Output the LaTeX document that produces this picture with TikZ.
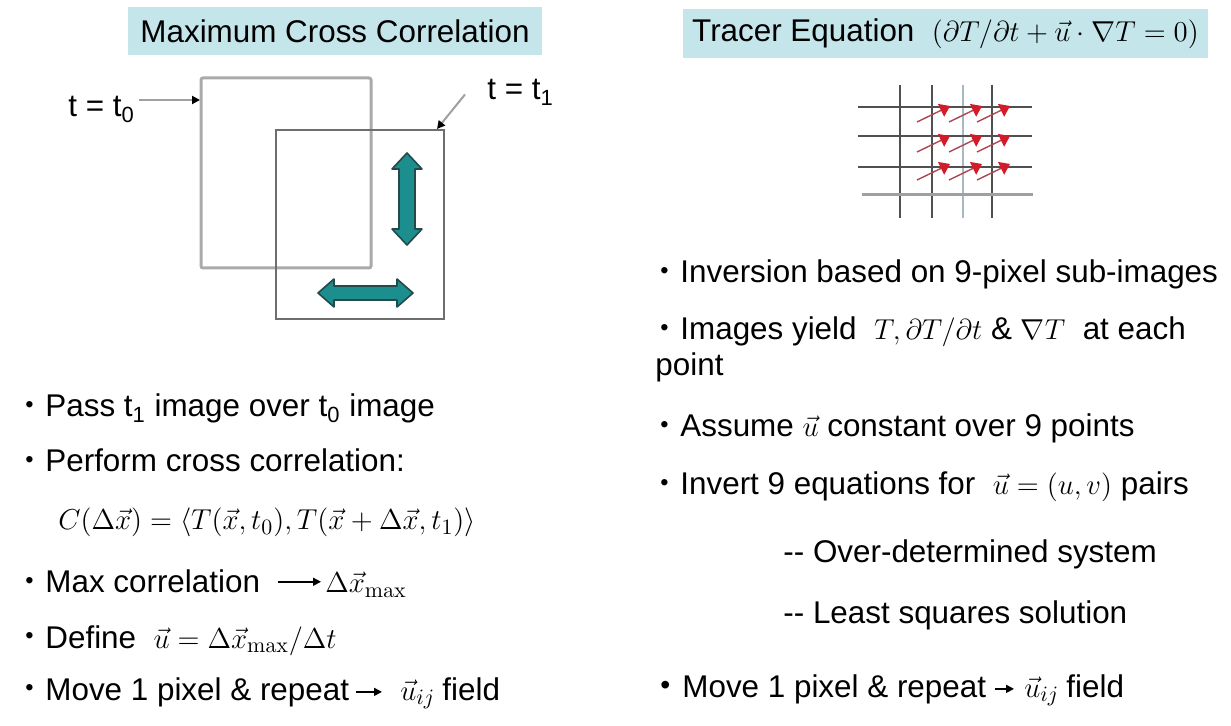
\documentclass[tikz,border=0pt]{standalone}
\usepackage[no-math]{fontspec}
\setmainfont{Liberation Sans}
\usetikzlibrary{arrows.meta}

\newcommand{\bul}{\makebox[10pt][l]{\raisebox{0.14em}{\scalebox{0.75}{\textbullet}}}}
\newcommand{\bulbig}{\makebox[11pt][l]{\raisebox{0.08em}{\scalebox{0.9}{\textbullet}}}}

\begin{document}
\begin{tikzpicture}[x=0.5pt, y=-0.5pt,
    txt/.style={anchor=base west, inner sep=0pt, font=\fontsize{15.7}{18}\selectfont},
    titlebox/.style={fill=titleColour, inner sep=0pt, font=\fontsize{15.7}{18}\selectfont},
    labelarrow/.style={draw=lineGrey, line width=1pt, -{Triangle[length=4pt, width=4pt, color=black]}},
    textarrow/.style={draw=black, line width=0.8pt, -{Triangle[length=4pt, width=4pt]}},
    gridline/.style={draw=gridColour, line width=1pt},
    flowarrow/.style={draw=flowLine, line width=0.7pt, -{Triangle[length=5pt, width=7pt, color=flowHead]}},
    dblarrow/.style={fill=tealFill, draw=tealBorder, line width=0.8pt, line join=round}]

    \definecolor{titleColour}{HTML}{C4E5EA}
    \definecolor{lineGrey}{HTML}{A0A0A0}
    \definecolor{squareA}{HTML}{AAAAAA}
    \definecolor{squareB}{HTML}{6E6E6E}
    \definecolor{tealFill}{HTML}{1C8E8E}
    \definecolor{tealBorder}{HTML}{244A4A}
    \definecolor{gridColour}{HTML}{505050}
    \definecolor{gridLight}{HTML}{A9B9C1}
    \definecolor{flowLine}{HTML}{B04452}
    \definecolor{flowHead}{HTML}{D21C2A}

    % Page size
    \useasboundingbox[fill=white] (0,0) rectangle (1231,726);

    % Titles
    \node[titlebox, minimum width=207pt, minimum height=24pt] (titleL) at (335,31) {Maximum Cross Correlation};
    \node[titlebox, minimum width=262.5pt, minimum height=24.5pt] (titleR) at (945.5,33.5)
        {Tracer Equation\ \ $(\partial T/\partial t + \vec{u}\cdot\nabla T = 0)$};

    % Image at t0 and image at t1
    \coordinate (A1) at (201,78);
    \coordinate (A2) at (371,268);
    \coordinate (B1) at (276,130);
    \coordinate (B2) at (444,319);
    \draw[squareA, line width=1.5pt, rounded corners=1pt] (A1) rectangle (A2);
    \draw[squareB, line width=1pt] (B1) rectangle (B2);

    % Time labels
    \node[txt] (tzero) at (68,117) {t = t\textsubscript{0}};
    \node[txt] (tone) at (487,100) {t = t\textsubscript{1}};
    \coordinate (t0tip) at (200,100);
    \coordinate (t1tip) at (437,129);
    \draw[labelarrow, shorten <=2pt] (tzero.east |- t0tip) -- (t0tip);
    \draw[labelarrow] ([xshift=-11pt,yshift=-1pt]tone.west) -- (t1tip);

    % Shift arrows
    \filldraw[dblarrow] (407,153) -- (422,169) -- (415,169) -- (415,229) -- (422,229) -- (407,245)
        -- (392,229) -- (399,229) -- (399,169) -- (392,169) -- cycle;
    \filldraw[dblarrow] (318,293) -- (334,279) -- (334,286) -- (397,286) -- (397,279) -- (413,293)
        -- (397,307) -- (397,300) -- (334,300) -- (334,307) -- cycle;

    % Pixel grid
    \foreach \gx in {900,932,992}
        \draw[gridline] (\gx,85) -- (\gx,218);
    \draw[gridLight, line width=1.2pt] (963,85) -- (963,218);
    \foreach \gy in {107,136,167}
        \draw[gridline] (858,\gy) -- (1032,\gy);
    \draw[lineGrey, line width=1.5pt] (862,195) -- (1033,195);

    % Velocity at each pixel
    \foreach \hx in {948,980,1008}
        \foreach \hy in {108,138,166}
            \draw[flowarrow] (\hx-31,\hy+14) -- (\hx+2,\hy-2);

    % Left column
    \node[txt] (pass) at (25,417) {\bul Pass t\textsubscript{1} image over t\textsubscript{0} image};
    \node[txt] (perform) at (25,472) {\bul Perform cross correlation:};
    \node[txt] (ccf) at (58,530)
        {$C\bigl(\Delta\vec{x}\bigr) = \bigl\langle T\bigl(\vec{x},t_0\bigr), T\bigl(\vec{x}+\Delta\vec{x},t_1\bigr)\bigr\rangle$};
    \node[txt] (maxcor) at (25,593) {\bul Max correlation};
    \node[txt] (dxmax) at (325,593) {$\Delta\vec{x}_{\max}$};
    \draw[textarrow, shorten <=9pt, shorten >=2pt] (maxcor.east) -- (maxcor.east -| dxmax.west);
    \node[txt] (define) at (25,648) {\bul Define\ \ $\vec{u} = \Delta\vec{x}_{\max}/\Delta t$};
    \node[txt] (moveL) at (25,700) {\bul Move 1 pixel \& repeat};
    \node[txt] (uijL) at (400,700) {$\vec{u}_{ij}$};
    \node[txt] (fieldL) at (442,700) {field};
    \draw[textarrow, shorten <=3pt, shorten >=9pt] (moveL.east) -- (moveL.east -| uijL.west);

    % Right column
    \node[txt] (inversion) at (660,283) {\bul Inversion based on 9-pixel sub-images};
    \node[txt] (yield) at (660,340) {\bul Images yield\ \ $T, \partial T/\partial t$ \& $\nabla T$\ \ at each};
    \node[txt] (point) at (655,376) {point};
    \node[txt] (assume) at (660,437) {\bul Assume $\vec{u}$ constant over 9 points};
    \node[txt] (invert) at (660,495) {\bul Invert 9 equations for\ \ $\vec{u} = (u,v)$ pairs};
    \node[txt] (overdet) at (783,563) {-{}- Over-determined system};
    \node[txt] (lsq) at (783,623) {-{}- Least squares solution};
    \node[txt] (moveR) at (660,697) {\bulbig Move 1 pixel \& repeat};
    \node[txt] (uijR) at (1024,697) {$\vec{u}_{ij}$};
    \node[txt] (fieldR) at (1066,697) {field};
    \draw[textarrow, shorten <=4pt, shorten >=5pt] (moveR.east) -- (moveR.east -| uijR.west);

\end{tikzpicture}
\end{document}
